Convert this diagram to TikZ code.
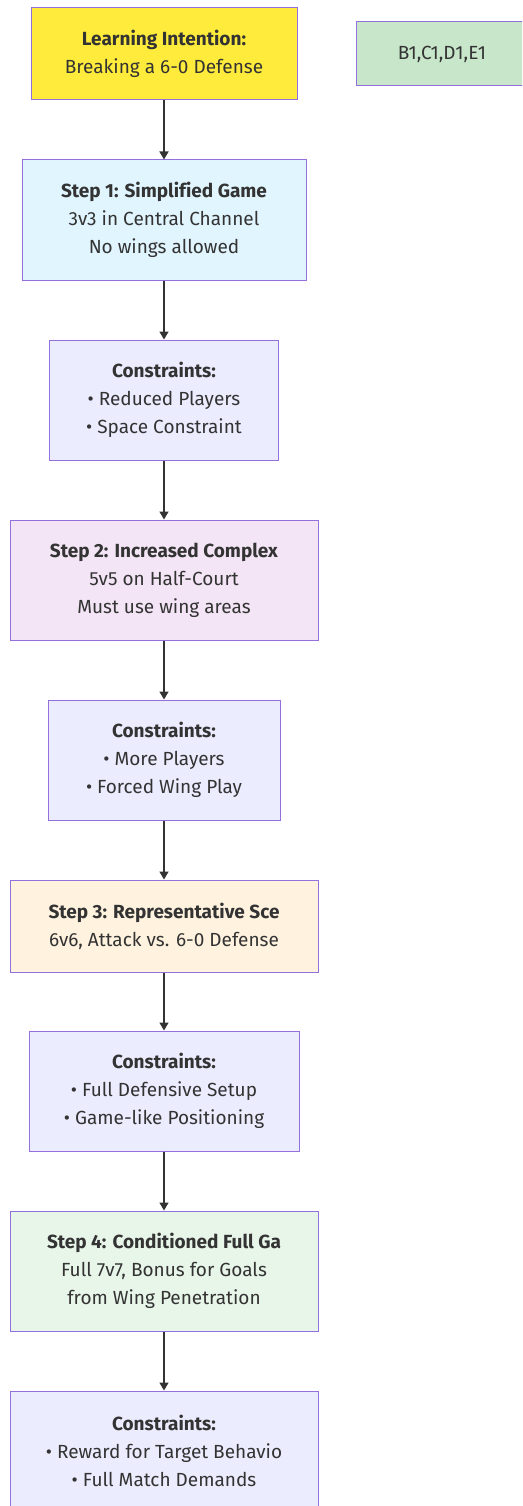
\documentclass[tikz,border=0pt]{standalone}
\usepackage{fontspec}
\setmainfont[Ligatures=NoCommon]{Fira Sans}
\usetikzlibrary{arrows.meta}
\definecolor{txt}{HTML}{333333}
\definecolor{bord}{HTML}{9370DB}
\definecolor{cyel}{HTML}{FFEB3B}
\definecolor{cgrn}{HTML}{C8E6C9}
\definecolor{cblue}{HTML}{E1F5FE}
\definecolor{ccon}{HTML}{ECECFF}
\definecolor{cpur}{HTML}{F3E5F5}
\definecolor{corg}{HTML}{FFF3E0}
\definecolor{clgr}{HTML}{E8F5E9}
\tikzset{
  box/.style={draw=bord, line width=1pt, text=txt, align=center, inner sep=0pt,
    font=\fontsize{19}{28}\selectfont},
  arr/.style={draw=txt, line width=1.5pt, -{Triangle[length=8pt,width=9pt]}}
}
\begin{document}
\begin{tikzpicture}[x=1pt,y=-1pt]
\clip (0,0) rectangle (522,1506);
\fill[white] (0,0) rectangle (522,1506);
\node[box, fill=cyel, minimum width=266pt, minimum height=92pt] (li) at (164,54)
  {\textbf{Learning Intention:}\\Breaking a 6-0 Defense};
\node[box, fill=cgrn, minimum width=172pt, minimum height=64pt] (bl) at (442,54)
  {B1,C1,D1,E1};
\node[box, fill=cblue, minimum width=284pt, minimum height=120pt] (s1) at (164,220)
  {\textbf{Step 1: Simplified Game}\\3v3 in Central Channel\\No wings allowed};
\node[box, fill=ccon, minimum width=229pt, minimum height=120pt] (c1) at (164,400)
  {\textbf{Constraints:}\\• Reduced Players\\• Space Constraint};
\node[box, fill=cpur, minimum width=308pt, minimum height=120pt] (s2) at (164,580)
  {\textbf{Step 2: Increased Complex}\\5v5 on Half-Court\\Must use wing areas};
\node[box, fill=ccon, minimum width=232pt, minimum height=120pt] (c2) at (164,760)
  {\textbf{Constraints:}\\• More Players\\• Forced Wing Play};
\node[box, fill=corg, minimum width=308pt, minimum height=92pt] (s3) at (164,926)
  {\textbf{Step 3: Representative Sce}\\6v6, Attack vs. 6-0 Defense};
\node[box, fill=ccon, minimum width=270pt, minimum height=120pt] (c3) at (164,1091)
  {\textbf{Constraints:}\\• Full Defensive Setup\\• Game-like Positioning};
\node[box, fill=clgr, minimum width=308pt, minimum height=120pt] (s4) at (164,1271)
  {\textbf{Step 4: Conditioned Full Ga}\\Full 7v7, Bonus for Goals\\from Wing Penetration};
\node[box, fill=ccon, minimum width=308pt, minimum height=120pt] (c4) at (164,1451)
  {\textbf{Constraints:}\\• Reward for Target Behavio\\• Full Match Demands};
\draw[arr] (li.south) -- (s1.north);
\draw[arr] (s1.south) -- (c1.north);
\draw[arr] (c1.south) -- (s2.north);
\draw[arr] (s2.south) -- (c2.north);
\draw[arr] (c2.south) -- (s3.north);
\draw[arr] (s3.south) -- (c3.north);
\draw[arr] (c3.south) -- (s4.north);
\draw[arr] (s4.south) -- (c4.north);
\end{tikzpicture}
\end{document}
